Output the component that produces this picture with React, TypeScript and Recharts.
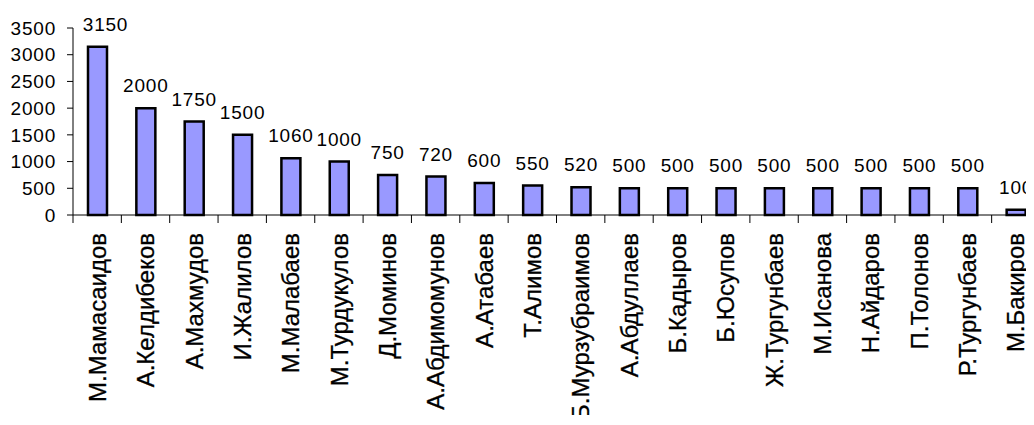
import { Bar, BarChart, LabelList, XAxis, YAxis } from "recharts"

const names = [
  "М.Мамасаидов",
  "А.Келдибеков",
  "А.Махмудов",
  "И.Жалилов",
  "М.Малабаев",
  "М.Турдукулов",
  "Д.Моминов",
  "А.Абдимомунов",
  "А.Атабаев",
  "Т.Алимов",
  "Б.Мурзубраимов",
  "А.Абдуллаев",
  "Б.Кадыров",
  "Б.Юсупов",
  "Ж.Тургунбаев",
  "М.Исанова",
  "Н.Айдаров",
  "П.Толонов",
  "Р.Тургунбаев",
  "М.Бакиров",
]
const values = [3150, 2000, 1750, 1500, 1060, 1000, 750, 720, 600, 550, 520, 500, 500, 500, 500, 500, 500, 500, 500, 100]
const yTicks = [0, 500, 1000, 1500, 2000, 2500, 3000, 3500]

const FONT = "'Liberation Sans', Arial, sans-serif"
const CHART_W = 1032
const AXIS_W = 65
const BAND = (CHART_W - AXIS_W) / names.length

function CategoryTick(props: any) {
  const { x, y, payload } = props
  const half = payload && typeof payload.offset === "number" && payload.offset > 0 ? payload.offset : BAND / 2
  const ty = y + 18
  return (
    <g>
      <line x1={x - half} x2={x - half} y1={y} y2={y + 8} stroke="#000" strokeWidth={1} />
      <text
        x={x}
        y={ty}
        dy="0.36em"
        transform={`rotate(-90, ${x}, ${ty})`}
        textAnchor="end"
        fontSize={24}
        fontFamily={FONT}
        stroke="#000"
        strokeWidth={0.3}
        fill="#000"
      >
        {payload.value}
      </text>
    </g>
  )
}

function ValueLabel(props: any) {
  const { x, y, width, value, index } = props
  // first label sits a little right of its bar, clear of the axis
  const shift = index === 0 ? 8 : 0
  return (
    <text
      x={x + width / 2 + shift}
      y={y - 16}
      textAnchor="middle"
      fontSize={19}
      letterSpacing={0.8}
      fontFamily={FONT}
      fill="#000"
    >
      {value}
    </text>
  )
}

export default function App() {
  const data = names.map((name, i) => ({ name, value: values[i] }))

  return (
    <div style={{ width: 1026, height: 417, overflow: "hidden" }}>
      <BarChart
        width={CHART_W}
        height={407}
        data={data}
        margin={{ top: 20, right: 0, bottom: 0, left: 0 }}
        barCategoryGap={0}
      >
        <XAxis
          dataKey="name"
          interval={0}
          height={200}
          tickSize={0}
          tickMargin={0}
          tickLine={false}
          axisLine={{ stroke: "#000", strokeWidth: 1 }}
          tick={<CategoryTick />}
        />
        <YAxis
          width={AXIS_W}
          domain={[0, 3500]}
          ticks={yTicks}
          interval={0}
          tickSize={6}
          tickMargin={11}
          axisLine={{ stroke: "#000", strokeWidth: 1 }}
          tickLine={{ stroke: "#000", strokeWidth: 1 }}
          tick={{ fontSize: 19, fill: "#000", fontFamily: FONT, letterSpacing: 0.8 }}
        />
        <Bar dataKey="value" fill="#9999FF" stroke="#000" strokeWidth={2.5} barSize={19} isAnimationActive={false}>
          <LabelList dataKey="value" content={<ValueLabel />} />
        </Bar>
      </BarChart>
    </div>
  )
}
